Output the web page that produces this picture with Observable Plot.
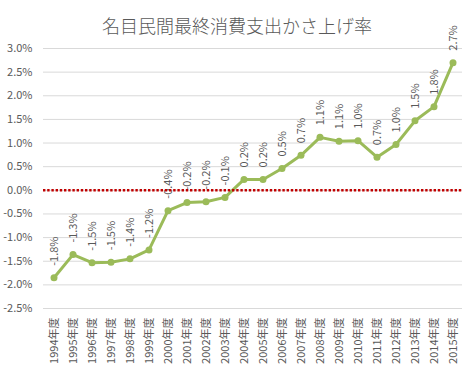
<!DOCTYPE html>
<html>
<head>
<meta charset="utf-8">
<script src="https://cdn.jsdelivr.net/npm/d3@7"></script>
<script src="https://cdn.jsdelivr.net/npm/@observablehq/plot@0.6"></script>
<style>
  body { margin: 0; background: #fff; }
  #chart svg { display: block; }
</style>
</head>
<body>
<div id="chart"></div>
<script>
const chartTitle = "名目民間最終消費支出かさ上げ率";
const years = ["1994年度","1995年度","1996年度","1997年度","1998年度","1999年度","2000年度","2001年度","2002年度","2003年度","2004年度","2005年度","2006年度","2007年度","2008年度","2009年度","2010年度","2011年度","2012年度","2013年度","2014年度","2015年度"];
const rates = [-1.85,-1.36,-1.53,-1.52,-1.45,-1.26,-0.43,-0.26,-0.24,-0.15,0.23,0.23,0.46,0.74,1.12,1.04,1.05,0.70,0.97,1.47,1.77,2.70];
const rateLabels = ["-1.8%","-1.3%","-1.5%","-1.5%","-1.4%","-1.2%","-0.4%","-0.2%","-0.2%","-0.1%","0.2%","0.2%","0.5%","0.7%","1.1%","1.1%","1.0%","0.7%","1.0%","1.5%","1.8%","2.7%"];
const yTicks = [-2.5,-2.0,-1.5,-1.0,-0.5,0.0,0.5,1.0,1.5,2.0,2.5,3.0];

const data = years.map((y, i) => ({year: y, rate: rates[i], label: rateLabels[i]}));
const font = "'Noto Sans CJK JP', 'Noto Sans', sans-serif";

const chart = Plot.plot({
  width: 471,
  height: 371,
  marginTop: 48,
  marginBottom: 63,
  marginLeft: 43,
  marginRight: 9,
  style: {fontFamily: font, fontSize: "11px", color: "#595959", background: "#fff"},
  x: {type: "band", domain: years, padding: 0, label: null},
  y: {domain: [-2.5, 3.0], label: null},
  marks: [
    Plot.gridY(yTicks, {stroke: "#d9d9d9", strokeOpacity: 1, strokeWidth: 1}),
    Plot.axisY(yTicks, {tickSize: 0, tickPadding: 11, tickFormat: d => d.toFixed(1) + "%", fill: "#595959", fontSize: 11, label: null}),
    Plot.axisX({tickSize: 0, tickPadding: 9, tickRotate: -90, fill: "#595959", fontSize: 11, label: null}),
    Plot.line(data, {x: "year", y: "rate", stroke: "#9bbb59", strokeWidth: 3}),
    Plot.dot(data, {x: "year", y: "rate", r: 3.5, fill: "#9bbb59", stroke: "none"}),
    Plot.text(data, {x: "year", y: "rate", text: "label", rotate: -90, textAnchor: "start", dy: -12, fill: "#595959", fontSize: 11}),
    Plot.ruleY([0], {stroke: "#c00000", strokeWidth: 2.5, strokeDasharray: "2.4,1.8"}),
    Plot.text([chartTitle], {frameAnchor: "top", dy: -28, dx: -16, fontSize: 18, fill: "#595959", fontWeight: 300})
  ]
});
document.getElementById("chart").appendChild(chart);
</script>
</body>
</html>
